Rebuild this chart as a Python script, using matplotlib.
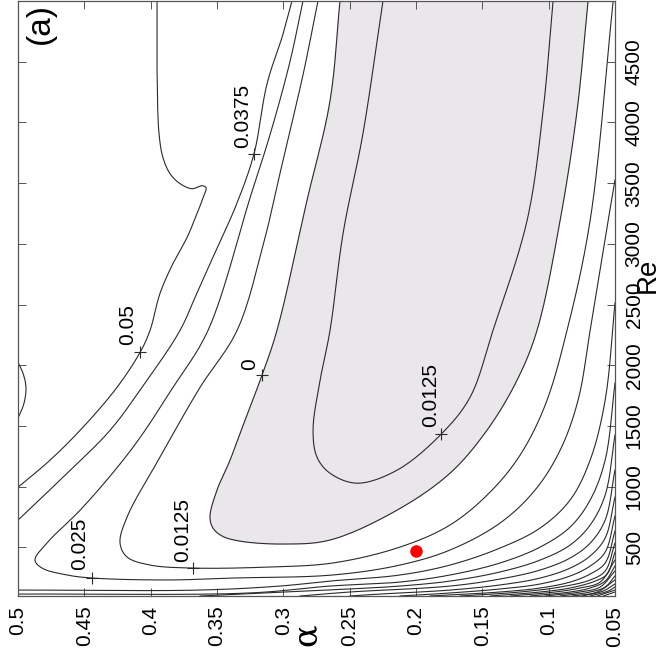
import numpy as np
import matplotlib.pyplot as plt

# contour lines, as (alpha, Re) lists
c005_a = [0.3952, 0.3952, 0.3937, 0.3907, 0.3854, 0.3779, 0.3688, 0.3613, 0.3583, 0.3605, 0.3651, 0.3726, 0.3832, 0.393, 0.4005, 0.408, 0.4254, 0.451, 0.4759, 0.5]
c005_r = [5000, 4449, 3907, 3709, 3578, 3496, 3454, 3479, 3463, 3380, 3249, 3052, 2838, 2591, 2287, 2106, 1818, 1490, 1218, 996]

c00625_a = [0.5, 0.4962, 0.494, 0.4955, 0.5]
c00625_r = [2024, 1933, 1818, 1687, 1564]

c00375_a = [0.2935, 0.3002, 0.3123, 0.3221, 0.3357, 0.3508, 0.3643, 0.3779, 0.4028, 0.4306, 0.463, 0.5]
c00375_r = [5000, 4729, 4318, 3742, 3315, 2945, 2616, 2287, 1876, 1465, 1111, 725]

c0025_a = [0.2852, 0.2950, 0.3100, 0.3245, 0.3568, 0.3832, 0.4133, 0.451, 0.4782, 0.4872, 0.4819, 0.463, 0.4442, 0.3877, 0.3379, 0.2626,
           0.2120, 0.1743, 0.1366, 0.1102, 0.0913, 0.0778, 0.0687, 0.0589, 0.05]
c0025_r = [5000, 4500, 3900, 3400, 2287, 1818, 1325, 832, 536, 396, 330, 273, 248, 232, 248, 273,
           355, 479, 701, 973, 1302, 1714, 2290, 2949, 3526]

c00125_a = [0.2739, 0.2850, 0.3000, 0.3150, 0.3349, 0.3628, 0.393, 0.4178, 0.4231, 0.4178, 0.4005, 0.3681, 0.3123, 0.2626,
            0.2120, 0.1743, 0.1441, 0.1215, 0.1026, 0.0861, 0.0687, 0.0514]
c00125_r = [5000, 4400, 3700, 3000, 2287, 1818, 1243, 750, 536, 421, 355, 330, 338, 372,
            503, 685, 956, 1261, 1673, 2290, 3196, 5000]

c0_a = [0.2573, 0.2648, 0.2822, 0.3048, 0.3161, 0.3289, 0.3402, 0.35, 0.3553, 0.353, 0.3462, 0.3327, 0.3002, 0.2648, 0.2143, 0.1744, 0.1465, 0.1239, 0.1088, 0.0914, 0.0786, 0.0703]
c0_r = [5000, 4178, 3356, 2287, 1917, 1547, 1218, 972, 750, 659, 594, 552, 528, 561, 807, 1111, 1465, 1876, 2287, 3191, 4096, 5000]

cin_a = [0.2249, 0.24, 0.255, 0.2648, 0.2723, 0.2776, 0.2746, 0.2648, 0.2445, 0.2143, 0.1811, 0.1593, 0.142, 0.1163, 0.1042, 0.0967]
cin_r = [5000, 3907, 3085, 2287, 1876, 1465, 1243, 1111, 1029, 1136, 1432, 1736, 2287, 3191, 4096, 5000]

# outer family in the low-alpha / low-Re corner
low_a = [
    [0.5, 0.3628, 0.3025, 0.2648, 0.2120, 0.1743, 0.1366, 0.1064, 0.0838, 0.0687, 0.0574, 0.05],
    [0.5, 0.3251, 0.2648, 0.2120, 0.1743, 0.1366, 0.1064, 0.0838, 0.0687, 0.0574, 0.05],
    [0.3628, 0.2648, 0.2120, 0.1743, 0.1366, 0.1064, 0.0838, 0.0687, 0.0574, 0.05],
    [0.2874, 0.2497, 0.1743, 0.1366, 0.1064, 0.0838, 0.0687, 0.0574, 0.05],
    [0.2497, 0.2271, 0.1743, 0.1366, 0.1064, 0.0838, 0.0687, 0.0574, 0.05],
    [0.2120, 0.1743, 0.1366, 0.1064, 0.0838, 0.0687, 0.0574, 0.05],
    [0.1894, 0.1366, 0.1064, 0.0838, 0.0687, 0.0574, 0.05],
    [0.1667, 0.1215, 0.0913, 0.0687, 0.0574, 0.05],
    [0.1441, 0.1064, 0.0838, 0.0649, 0.0559, 0.05],
    [0.1290, 0.0951, 0.0763, 0.0612, 0.05],
    [0.1140, 0.0838, 0.0687, 0.0574, 0.05],
    [0.1026, 0.0763, 0.0612, 0.05],
    [0.0913, 0.0687, 0.0574, 0.05],
    [0.0823, 0.0634, 0.05],
    [0.0747, 0.0589, 0.05],
    [0.0687, 0.0551, 0.05],
    [0.0634, 0.05],
    [0.0589, 0.05],
]
low_r = [
    [149, 149, 182, 223, 273, 355, 495, 660, 891, 1220, 1714, 2513],
    [116, 125, 182, 215, 273, 372, 503, 668, 891, 1220, 1854],
    [100, 150, 182, 223, 298, 396, 520, 685, 932, 1426],
    [100, 133, 182, 240, 314, 413, 536, 726, 1138],
    [100, 116, 149, 191, 248, 330, 430, 578, 915],
    [100, 125, 158, 199, 265, 347, 462, 759],
    [100, 133, 166, 215, 281, 372, 635],
    [100, 133, 174, 232, 306, 536],
    [100, 133, 166, 223, 281, 462],
    [100, 133, 166, 215, 396],
    [100, 133, 166, 223, 347],
    [100, 133, 174, 306],
    [100, 133, 174, 265],
    [100, 133, 232],
    [100, 141, 199],
    [100, 141, 174],
    [100, 149],
    [100, 133],
]

dot_a = 0.2
dot_r = 470

labels = ['0.05', '0.0375', '0', '0.025', '0.0125', '0.0125']
lab_a = [0.4171, 0.3304, 0.3251, 0.4533, 0.3756, 0.1887]
lab_r = [2164, 3791, 1958, 314, 380, 1490]
plus_a = [0.408, 0.3221, 0.3161, 0.4442, 0.3681, 0.1811]
plus_r = [2106, 3742, 1917, 248, 330, 1432]

a_ticks = [0.5, 0.45, 0.4, 0.35, 0.3, 0.25, 0.2, 0.15, 0.1, 0.05]
re_ticks = [500, 1000, 1500, 2000, 2500, 3000, 3500, 4000, 4500]


def smooth(a, r, n=16):
    # centripetal Catmull-Rom through the read points, worked out in axis-fraction space
    u = (0.5 - np.asarray(a, float)) / 0.45
    v = (np.asarray(r, float) - 100) / 4900
    P = np.column_stack([u, v])
    if len(P) < 3:
        return a, r
    P = np.vstack([2 * P[0] - P[1], P, 2 * P[-1] - P[-2]])
    out = []
    for i in range(1, len(P) - 2):
        p0, p1, p2, p3 = P[i - 1], P[i], P[i + 1], P[i + 2]
        t0 = 0.0
        t1 = t0 + np.linalg.norm(p1 - p0) ** 0.5
        t2 = t1 + np.linalg.norm(p2 - p1) ** 0.5
        t3 = t2 + np.linalg.norm(p3 - p2) ** 0.5
        t = np.linspace(t1, t2, n)[:, None]
        a1 = (t1 - t) / (t1 - t0) * p0 + (t - t0) / (t1 - t0) * p1
        a2 = (t2 - t) / (t2 - t1) * p1 + (t - t1) / (t2 - t1) * p2
        a3 = (t3 - t) / (t3 - t2) * p2 + (t - t2) / (t3 - t2) * p3
        b1 = (t2 - t) / (t2 - t0) * a1 + (t - t0) / (t2 - t0) * a2
        b2 = (t3 - t) / (t3 - t1) * a2 + (t - t1) / (t3 - t1) * a3
        c = (t2 - t) / (t2 - t1) * b1 + (t - t1) / (t2 - t1) * b2
        out.append(c if i == len(P) - 3 else c[:-1])
    C = np.vstack(out)
    return 0.5 - C[:, 0] * 0.45, 100 + C[:, 1] * 4900


plt.rcParams['font.family'] = ['Liberation Sans', 'DejaVu Sans']

fig = plt.figure(figsize=(6.69, 6.57), dpi=100)
ax = fig.add_axes([18 / 669, 61 / 657, 597 / 669, 595 / 657])

lc = '#2a2a2a'
lw = 0.8
ga, gr = smooth(c0_a, c0_r)
ax.fill(ga, gr, color='#e9e7ea', zorder=0)
for a, r in [(c005_a, c005_r), (c00625_a, c00625_r), (c00375_a, c00375_r),
             (c0025_a, c0025_r), (c00125_a, c00125_r), (c0_a, c0_r), (cin_a, cin_r)]:
    sa, sr = smooth(a, r)
    ax.plot(sa, sr, color=lc, lw=lw)
for a, r in zip(low_a, low_r):
    sa, sr = smooth(a, r)
    ax.plot(sa, sr, color=lc, lw=lw)

ax.plot(plus_a, plus_r, '+', color=lc, ms=9, mew=0.8)
for t, a, r in zip(labels, lab_a, lab_r):
    ax.text(a, r, t, rotation=90, ha='center', va='bottom', fontsize=15)

ax.plot([dot_a], [dot_r], 'o', color='#ff0000', ms=8, zorder=5)

ax.set_xlim(0.5, 0.05)
ax.set_ylim(100, 5000)
ax.set_xticks(a_ticks)
ax.set_xticklabels([str(v) for v in a_ticks], rotation=90, fontsize=15)
ax.yaxis.tick_right()
ax.set_yticks(re_ticks)
ax.set_yticklabels([str(v) for v in re_ticks], rotation=90, va='center', fontsize=15)
ax.tick_params(direction='in', length=6, width=0.7, color='#555555',
               top=True, bottom=True, left=True, right=True, pad=7)
for s in ax.spines.values():
    s.set_linewidth(0.9)
    s.set_color('#555555')

fig.text(307 / 669, 1 - 635 / 657, 'α', rotation=90, fontsize=24, ha='center', va='center',
         family='DejaVu Serif')
fig.text(648 / 669, 1 - 275 / 657, 'Re', rotation=90, fontsize=20, ha='center', va='center')
ax.text(0.012, 0.997, '(a)', transform=ax.transAxes, rotation=90, fontsize=24,
        ha='left', va='top')

fig.savefig('out.png', dpi=100)
